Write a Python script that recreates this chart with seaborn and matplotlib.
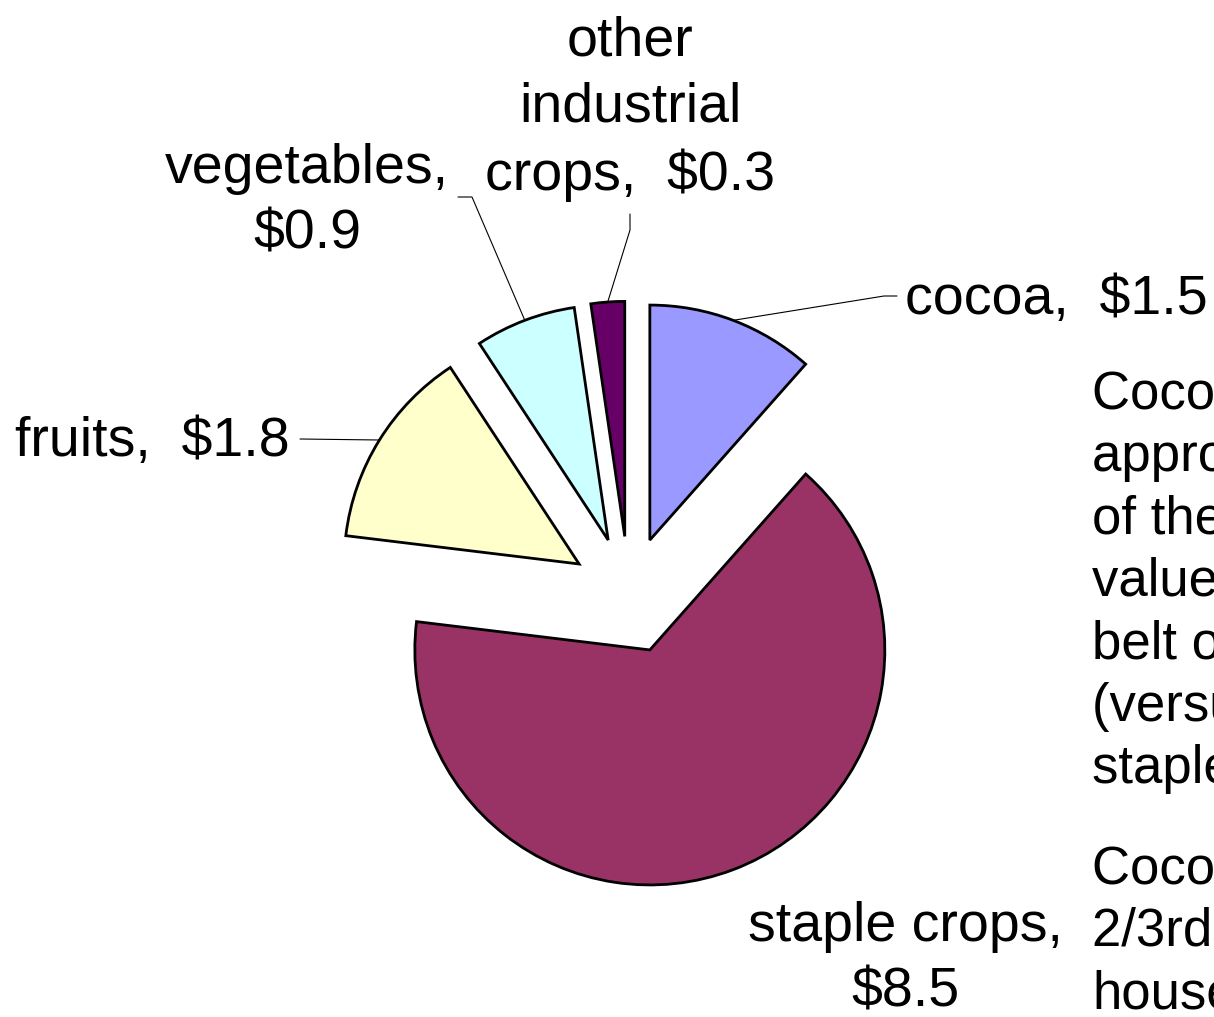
import numpy as np
import matplotlib
matplotlib.use("Agg")
import matplotlib.pyplot as plt
import seaborn as sns

# crop value by category (billions)
crops = ["cocoa", "staple crops", "fruits", "vegetables", "other industrial crops"]
values = [1.5, 8.5, 1.8, 0.9, 0.3]
labels = ["cocoa,  \\$1.5", "staple crops,\n\\$8.5", "fruits,  \\$1.8",
          "vegetables,\n\\$0.9", "other\nindustrial\ncrops,  \\$0.3"]
colors = ["#9999FF", "#993366", "#FFFFCC", "#CCFFFF", "#660066"]

note1 = "Cocoa is\napproximately 11%\nof the crop\nvalue in the cocoa\nbelt of Ghana\n(versus 65% for\nstaple crops)"
note2 = "Cocoa is grown by\n2/3rds of\nhouseholds"

sns.set_theme(style="white")
plt.rcParams['font.family'] = ['Liberation Sans', 'DejaVu Sans']

W, H = 1214, 1017
fig = plt.figure(figsize=(W / 100, H / 100), dpi=100)
ax = fig.add_axes([0, 0, 1, 1])

R = 235
wedges, _ = ax.pie(values, colors=colors, startangle=90, counterclock=False,
                   explode=[0.25 * R] * len(values), radius=R, center=(629, H - 595),
                   wedgeprops=dict(edgecolor="black", linewidth=2.0))
ax.set_xlim(0, W)
ax.set_ylim(0, H)
ax.set_aspect("equal")
ax.axis("off")

# label layout in pixel coords (x, y from top), leader path ends, alignment
layout = {
    "cocoa": dict(xy=(905, 300), ha="left", lead=[(884, 296), (897, 296)]),
    "staple crops": dict(xy=(905, 960), ha="center", lead=None),
    "fruits": dict(xy=(290, 442), ha="right", lead=[(300, 439)]),
    "vegetables": dict(xy=(307, 202), ha="center", lead=[(472, 197), (458, 197)]),
    "other industrial crops": dict(xy=(630, 109), ha="center", lead=[(630, 230), (630, 214)]),
}

for w, name, lab in zip(wedges, crops, labels):
    spec = layout[name]
    x, y = spec["xy"]
    ax.text(x, H - y, lab, ha=spec["ha"], va="center", multialignment="center",
            fontsize=40, color="black", linespacing=1.35)
    if spec["lead"]:
        mid = np.deg2rad((w.theta1 + w.theta2) / 2)
        cx, cy = w.center
        ax_pt = (cx + w.r * np.cos(mid), cy + w.r * np.sin(mid))
        pts = [ax_pt] + [(px, H - py) for px, py in spec["lead"]]
        ax.plot([p[0] for p in pts], [p[1] for p in pts], color="black", lw=0.8)

# side notes run past the right edge, as in the source slide
ax.text(1092, H - 582, note1, ha="left", va="center", fontsize=38,
        linespacing=1.32, color="black")
ax.text(1092, H - 932, note2, ha="left", va="center", fontsize=38,
        linespacing=1.32, color="black")

fig.savefig("out.png", dpi=100)
